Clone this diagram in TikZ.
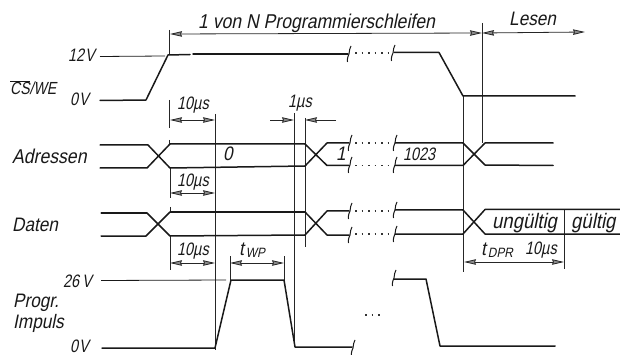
\documentclass[tikz,border=0pt]{standalone}
\usepackage{fontspec}
\usetikzlibrary{arrows.meta}
\newfontfamily\lf[FakeSlant=0.2,FakeStretch=0.88]{Liberation Sans}
\newfontfamily\lfn[FakeSlant=0.2,FakeStretch=0.8]{Liberation Sans}
\tikzset{
 sig/.style={line width=1.5pt,line cap=round,line join=round,black!90},
 thin line/.style={line width=0.8pt,black!90},
 guide/.style={line width=0.9pt,black!85},
 dots/.style={line width=1.5pt,dash pattern=on 1.5pt off 5pt,black!80},
 dim/.style={line width=0.8pt,black!85,{Stealth[length=12pt,width=5.5pt,fill=black!45,inset=1pt]}-{Stealth[length=12pt,width=5.5pt,fill=black!45,inset=1pt]}},
 dimr/.style={line width=0.8pt,black!85,-{Stealth[length=12pt,width=5.5pt,fill=black!45,inset=1pt]}},
 brk/.style={line width=1pt,black!90},
 lab/.style={anchor=base west,inner sep=0pt,font=\lf\fontsize{19.5}{20}\selectfont,text=black!90},
 labw/.style={lab,font=\lf\fontsize{21}{21}\selectfont},
 labs/.style={lab,font=\lfn\fontsize{18}{18}\selectfont},
}
\newcommand{\brkmark}[2]{\draw[brk] (#1-1.5,#2+8) .. controls (#1-2,#2+3) and (#1-0.5,#2+2) .. (#1,#2) .. controls (#1+0.5,#2-3) and (#1+0.5,#2-6) .. (#1+2,#2-8);}
\newcommand{\subt}[1]{\hspace{2pt}\raisebox{-2.5pt}{\fontsize{13.5}{13.5}\selectfont #1}}
\begin{document}
\begin{tikzpicture}[x=1pt,y=-1pt]
\useasboundingbox (0,0) rectangle (620,355);
% guides
\coordinate (A1) at (169.5,30); \coordinate (A2) at (169.5,55);
\coordinate (B1) at (215,114); \coordinate (B2) at (215,350);
\coordinate (C1) at (294,113); \coordinate (C2) at (294,342);
\coordinate (D1) at (305,118); \coordinate (D2) at (305,247);
\coordinate (E1) at (463,96); \coordinate (E2) at (463,272);
\coordinate (F1) at (482.5,23); \coordinate (F2) at (482.5,143);
\coordinate (G1) at (564,210); \coordinate (G2) at (564,269);
\foreach \a/\b in {A1/A2,B1/B2,C1/C2,D1/D2,E1/E2,F1/F2,G1/G2} \draw[guide] (\a)--(\b);
\draw[guide] (169.5,100)--(169.5,128);
\draw[guide] (169.5,140)--(169.5,144);
\draw[guide] (170,168)--(170,198);
\draw[guide] (170,207)--(170,212);
\draw[guide] (170,236)--(170,270);
\draw[guide] (230,256)--(230,281);
\draw[guide] (284,256)--(284,281);
% CS/WE
\draw[thin line] (100,56.5)--(165,56);
\draw[sig] (100,100.5)--(146,100)--(168,55)--(190,54.5);
\draw[sig] (193,54)--(348,54);
\draw[dots] (355,53)--(392,53);
\draw[sig] (394,52.5)--(439,52.5)--(463,96)--(575,96);
\brkmark{349}{54}\brkmark{393}{53}
% Adressen
\draw[sig] (100,145)--(148,145)--(170,168)--(305,166)--(327,143)--(349,143);
\draw[sig] (100,168)--(147,168)--(170,144)--(305,144)--(327,165.5)--(349,165.5);
\draw[dots] (355,143)--(392,143);\draw[dots] (355,165.5)--(392,165.5);
\draw[sig] (395,143)--(463,143)--(485,165)--(553,165.5);
\draw[sig] (395,165.5)--(463,165.5)--(485,143)--(553,143);
\brkmark{350}{143}\brkmark{350}{165}\brkmark{395}{143}\brkmark{395}{165}
% Daten
\draw[sig] (101,213)--(147,213)--(170,236)--(305,235)--(327,211)--(349,211);
\draw[sig] (101,236)--(146,236)--(170,212)--(305,212)--(327,235)--(349,235);
\draw[dots] (355,211)--(392,211);\draw[dots] (355,234)--(392,234);
\draw[sig] (395,210)--(463,210)--(485,234)--(620,234);
\draw[sig] (395,234)--(463,234)--(485,209.5)--(620,209.5);
\brkmark{350}{211}\brkmark{350}{235}\brkmark{395}{210}\brkmark{395}{234}
% Progr
\draw[thin line] (101,280.5)--(226,280);
\draw[sig] (102,348)--(215,348)--(231,280)--(284,280)--(295,347)--(352,347);
\draw[sig] (394,279)--(426,279)--(440,346)--(555,346);
\brkmark{353}{348}\brkmark{394}{278}
\draw[dots] (365,315)--(381,315);
% dimensions
\coordinate (h1) at (170,34); \coordinate (h2) at (482,33);
\coordinate (h3) at (585,32);
\draw[dim] (h1)--(h2);
\draw[dim] (h2)--(h3);
\draw[dim] (170,120)--(215,120);
\draw[dim] (170,193)--(215,193);
\draw[dim] (170,263)--(215,263);
\draw[dim] (230,263)--(284,263);
\draw[dimr] (270,120)--(294,120);
\draw[dimr] (336,120)--(305,120);
\draw[dim] (464,262)--(564,262);
% labels
\node[lab,font=\lf\fontsize{20}{20}\selectfont] (n1) at (198,29) {1 von N Programmierschleifen};
\node[lab] (n2) at (509,26) {Lesen};
\node[labs] (n3) at (68,62) {12\hspace{1pt}V};
\node[labs] (n4) at (70,106) {0\hspace{1pt}V};
\node[lab,font=\lfn\fontsize{17.5}{18}\selectfont] (n5) at (10,95) {$\overline{\hbox{CS}}$/WE};
\node[lab,font=\lf\fontsize{20}{20}\selectfont] (n6) at (12,164) {Adressen};
\node[lab] (n7) at (12,231) {Daten};
\node[lab] (n8) at (13,307) {Progr.};
\node[lab] (n9) at (13,328) {Impuls};
\node[labs] (n10) at (63,287) {26\,V};
\node[labs] (n11) at (70,352) {0\hspace{1pt}V};
\node[labs] (n12) at (177,110) {10µs};
\node[labs] (n13) at (177,187) {10µs};
\node[labs] (n14) at (177,255) {10µs};
\node[labs] (n15) at (288,108) {1µs};
\node[lab] (n16) at (223,161) {0};
\node[lab] (n17) at (336,161) {1};
\node[labs] (n18) at (403,161) {1023};
\node[labw] (n19) at (492,229) {ungültig};
\node[labw] (n20) at (571,229) {gültig};
\node[lab] (n21) at (481,255) {t\subt{DPR}};
\node[labs] (n22) at (525,254) {10µs};
\node[lab] (n23) at (239,255) {t\subt{WP}};
\end{tikzpicture}
\end{document}
